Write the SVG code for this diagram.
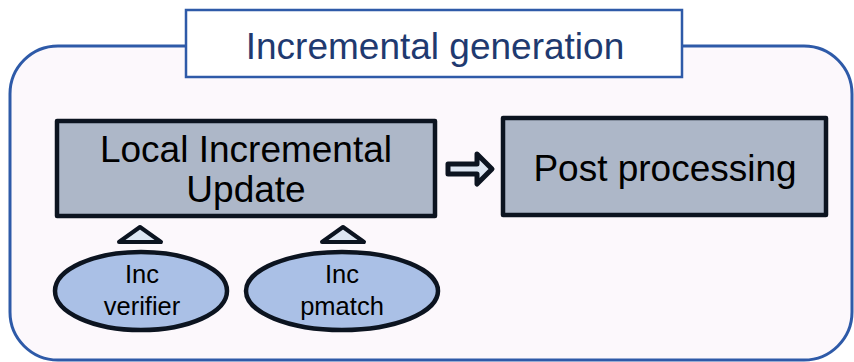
<svg xmlns="http://www.w3.org/2000/svg" width="854" height="362" viewBox="0 0 854 362">
<style>
.box{fill:#adb7c8;stroke:#0c1420;stroke-width:4.5;stroke-linejoin:round}
.ell{fill:#aac0e6;stroke:#0c1420;stroke-width:4.5}
.tri{fill:#dde6f2;stroke:#0c1420;stroke-width:4;stroke-linejoin:round}
.t{font-family:"Liberation Sans",Arial,sans-serif;fill:#000;text-anchor:middle}
</style>
<rect x="0" y="0" width="854" height="362" fill="#ffffff"/>
<g id="container">
<rect x="10" y="46" width="842" height="314" rx="48" ry="48" fill="#fcf8fc" stroke="#2e5aa8" stroke-width="3"/>
</g>
<g id="title">
<rect x="186" y="10" width="496" height="67" fill="#ffffff" stroke="#2e5aa8" stroke-width="2.5"/>
<text class="t" x="435" y="59" font-size="37" style="fill:#1f3a70">Incremental generation</text>
</g>
<g id="local-update">
<rect class="box" x="57" y="121" width="378" height="95"/>
<text class="t" x="246" y="162" font-size="37">Local Incremental</text>
<text class="t" x="246" y="202" font-size="37">Update</text>
</g>
<g id="post-processing">
<rect class="box" x="503" y="118" width="323" height="97"/>
<text class="t" x="665" y="181" font-size="37">Post processing</text>
</g>
<g id="inc-verifier">
<ellipse class="ell" cx="141" cy="291" rx="86" ry="39"/>
<text class="t" x="142" y="283" font-size="25.5">Inc</text>
<text class="t" x="142" y="315" font-size="25.5">verifier</text>
</g>
<g id="inc-pmatch">
<ellipse class="ell" cx="342" cy="291" rx="96" ry="39"/>
<text class="t" x="342" y="283" font-size="25.5">Inc</text>
<text class="t" x="342" y="315" font-size="25.5">pmatch</text>
</g>
<g id="connectors">
<path class="tri" style="stroke-width:5" d="M448,164 L477,164 L477,154 L492,169 L477,184 L477,174 L448,174 Z"/>
<path class="tri" d="M119,242 L140,227 L161,242 Z"/>
<path class="tri" d="M322,242 L343,227 L364,242 Z"/>
</g>
</svg>
